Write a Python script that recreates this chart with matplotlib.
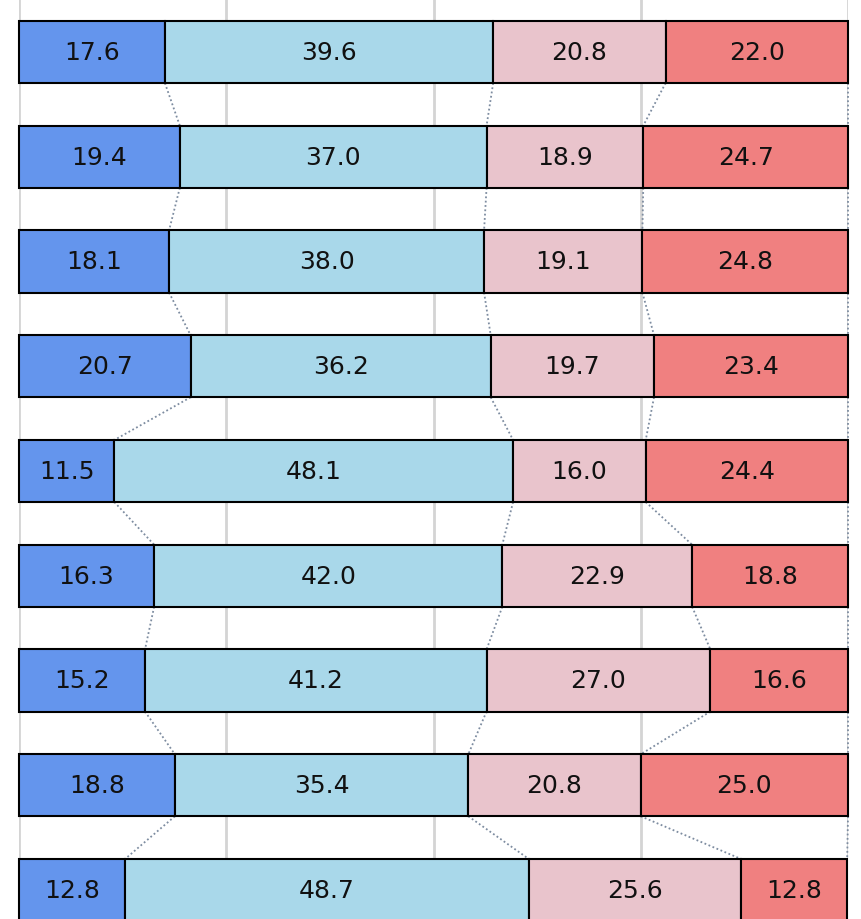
import numpy as np
import matplotlib.pyplot as plt

# shares per row (percent), four segments each
seg1 = [17.6, 19.4, 18.1, 20.7, 11.5, 16.3, 15.2, 18.8, 12.8]
seg2 = [39.6, 37.0, 38.0, 36.2, 48.1, 42.0, 41.2, 35.4, 48.7]
seg3 = [20.8, 18.9, 19.1, 19.7, 16.0, 22.9, 27.0, 20.8, 25.6]
seg4 = [22.0, 24.7, 24.8, 23.4, 24.4, 18.8, 16.6, 25.0, 12.8]

colors = ['#6495ed', '#a9d8ea', '#e9c4cc', '#f08080']

data = np.array([seg1, seg2, seg3, seg4]).T
n = data.shape[0]
rows = np.arange(n)
h = 0.592

fig = plt.figure(figsize=(8.62, 9.2), dpi=100)
ax = fig.add_axes([19 / 862, 0, (848 - 19) / 862, 1])

for g in [0, 25, 50, 75, 100]:
    ax.axvline(g, color='#d4d4d4', lw=2, zorder=0)

left = np.zeros(n)
for k in range(4):
    ax.barh(rows, data[:, k], left=left, height=h, color=colors[k],
            edgecolor='black', linewidth=1.5, zorder=2, clip_on=False)
    for i in range(n):
        ax.text(left[i] + data[i, k] / 2, i, f'{data[i, k]:.1f}',
                ha='center', va='center', fontsize=18, color='#111111', zorder=3)
    left = left + data[:, k]

# dotted connectors between segment boundaries of neighbouring rows
cum = np.cumsum(data, axis=1)
for i in range(n - 1):
    for k in range(4):
        ax.plot([cum[i, k], cum[i + 1, k]], [i + h / 2, i + 1 - h / 2],
                color='#7d8ca0', lw=1.3, linestyle=(0, (1, 1.4)), zorder=1,
                clip_on=False)

ax.set_xlim(0, 100)
ax.set_ylim(8 + 29 / 104.75, -53 / 104.75)
ax.axis('off')

fig.savefig('out.png', dpi=100)
